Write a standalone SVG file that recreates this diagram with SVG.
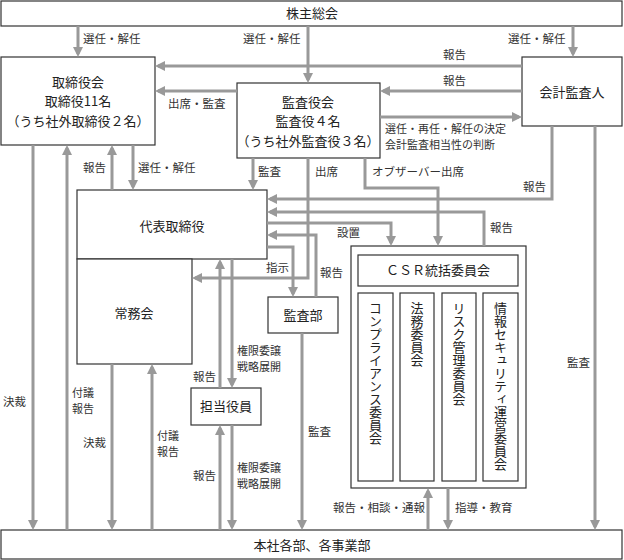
<svg xmlns="http://www.w3.org/2000/svg" width="624" height="560" viewBox="0 0 624 560">
<defs>
<style>
.box{fill:#fff;stroke:#333;stroke-width:1.2}
.t{font-family:'Noto Sans CJK JP',sans-serif;font-size:13px;fill:#222;text-anchor:middle}
.s{font-family:'Noto Sans CJK JP',sans-serif;font-size:11.5px;fill:#333}
.s2{font-family:'Noto Sans CJK JP',sans-serif;font-size:11px;fill:#333}
.v{font-family:'Noto Sans CJK JP',sans-serif;font-size:13px;fill:#222;writing-mode:vertical-rl}
.c{fill:none;stroke:#999;stroke-width:3}
.a{marker-end:url(#ah)}
</style>
<marker id="ah" viewBox="0 0 10 10" refX="7" refY="5" markerWidth="10" markerHeight="10" markerUnits="userSpaceOnUse" orient="auto">
<path d="M0,0 L10,5 L0,10 z" fill="#999"/>
</marker>
</defs>
<rect width="624" height="560" fill="#fff"/>

<g id="kabunushi"><rect class="box" x="1" y="1" width="621" height="25"/><text class="t" x="312" y="18">株主総会</text></g>
<g id="torishimariyakukai"><rect class="box" x="1" y="57" width="154" height="88"/>
<text class="t" x="78" y="87">取締役会</text><text class="t" x="78" y="106">取締役11名</text><text class="t" x="78" y="126">（うち社外取締役２名）</text></g>
<g id="kansayakukai"><rect class="box" x="237" y="83" width="143" height="75"/>
<text class="t" x="308" y="107">監査役会</text><text class="t" x="308" y="126">監査役４名</text><text class="t" x="308" y="146">（うち社外監査役３名）</text></g>
<g id="kaikei"><rect class="box" x="522" y="57" width="100" height="69"/><text class="t" x="572" y="97">会計監査人</text></g>
<g id="daihyo"><rect class="box" x="77" y="190" width="190" height="69"/><text class="t" x="172" y="231">代表取締役</text></g>
<g id="jomukai"><rect class="box" x="77" y="259" width="115" height="105"/><text class="t" x="134" y="318">常務会</text></g>
<g id="kansabu"><rect class="box" x="268" y="297" width="70" height="36"/><text class="t" x="303" y="320">監査部</text></g>
<g id="tanto"><rect class="box" x="191" y="388" width="70" height="37"/><text class="t" x="226" y="411">担当役員</text></g>
<g id="csr"><rect class="box" x="351" y="246" width="175" height="242"/>
<rect class="box" x="358" y="255" width="160" height="31"/><text class="t" x="438" y="275">ＣＳＲ統括委員会</text></g>
<g id="compliance"><rect class="box" x="358" y="293" width="35" height="188"/><text class="v" x="375.5" y="302">コンプライアンス委員会</text></g>
<g id="homu"><rect class="box" x="400" y="293" width="34" height="188"/><text class="v" x="417" y="302">法務委員会</text></g>
<g id="risk"><rect class="box" x="442" y="293" width="34" height="188"/><text class="v" x="459" y="302">リスク管理委員会</text></g>
<g id="security"><rect class="box" x="483" y="293" width="35" height="188"/><text class="v" x="500.5" y="302">情報セキュリティ運営委員会</text></g>
<g id="honsha"><rect class="box" x="1" y="530" width="621" height="29"/><text class="t" x="312" y="550">本社各部、各事業部</text></g>

<g id="connectors">
<path class="c a" d="M78,26 V54"/>
<path class="c a" d="M308,26 V80"/>
<path class="c a" d="M573,26 V54"/>
<path class="c a" d="M522,66 H158"/>
<path class="c a" d="M522,91 H383"/>
<path class="c a" d="M380,117 H519"/>
<path class="c a" d="M237,91 H158"/>
<path class="c a" d="M33,145 V527"/>
<path class="c a" d="M67,530 V148"/>
<path class="c a" d="M112,190 V148"/>
<path class="c a" d="M133,145 V187"/>
<path class="c a" d="M253,158 V187"/>
<path class="c a" d="M308,158 V278 H195"/>
<path class="c a" d="M365,158 V188 H438 V243"/>
<path class="c a" d="M552,126 V199 H270"/>
<path class="c a" d="M484,246 V212 H270"/>
<path class="c a" d="M267,223 H391 V243"/>
<path class="c a" d="M316,297 V235 H270"/>
<path class="c a" d="M267,247 H293 V294"/>
<path class="c a" d="M302,333 V527"/>
<path class="c a" d="M220,388 V262"/>
<path class="c a" d="M232,259 V385"/>
<path class="c a" d="M220,530 V428"/>
<path class="c a" d="M232,425 V527"/>
<path class="c a" d="M112,364 V527"/>
<path class="c a" d="M152,530 V367"/>
<path class="c a" d="M595,126 V527"/>
<path class="c a" d="M428,530 V491"/>
<path class="c a" d="M448,488 V527"/>
</g>

<g id="labels">
<text class="s" x="83" y="43">選任・解任</text>
<text class="s" x="243" y="43">選任・解任</text>
<text class="s" x="508" y="43">選任・解任</text>
<text class="s" x="443" y="59">報告</text>
<text class="s" x="443" y="85">報告</text>
<text class="s2" x="385" y="133">選任・再任・解任の決定</text>
<text class="s2" x="385" y="149">会計監査相当性の判断</text>
<text class="s" x="168" y="108">出席・監査</text>
<text class="s" x="83" y="172">報告</text>
<text class="s" x="138" y="172">選任・解任</text>
<text class="s" x="258" y="176">監査</text>
<text class="s" x="315" y="176">出席</text>
<text class="s" x="372" y="176">オブザーバー出席</text>
<text class="s" x="523" y="191">報告</text>
<text class="s" x="490" y="232">報告</text>
<text class="s" x="337" y="237">設置</text>
<text class="s" x="266" y="272">指示</text>
<text class="s" x="320" y="277">報告</text>
<text class="s2" x="237" y="355">権限委譲</text>
<text class="s2" x="237" y="371">戦略展開</text>
<text class="s" x="193" y="381">報告</text>
<text class="s" x="567" y="367">監査</text>
<text class="s" x="3" y="406">決裁</text>
<text class="s2" x="72" y="397">付議</text>
<text class="s2" x="72" y="413">報告</text>
<text class="s" x="308" y="436">監査</text>
<text class="s" x="83" y="447">決裁</text>
<text class="s2" x="157" y="440">付議</text>
<text class="s2" x="157" y="456">報告</text>
<text class="s" x="193" y="480">報告</text>
<text class="s2" x="237" y="472">権限委譲</text>
<text class="s2" x="237" y="488">戦略展開</text>
<text class="s" x="333" y="512">報告・相談・通報</text>
<text class="s" x="455" y="512">指導・教育</text>
</g>
</svg>
